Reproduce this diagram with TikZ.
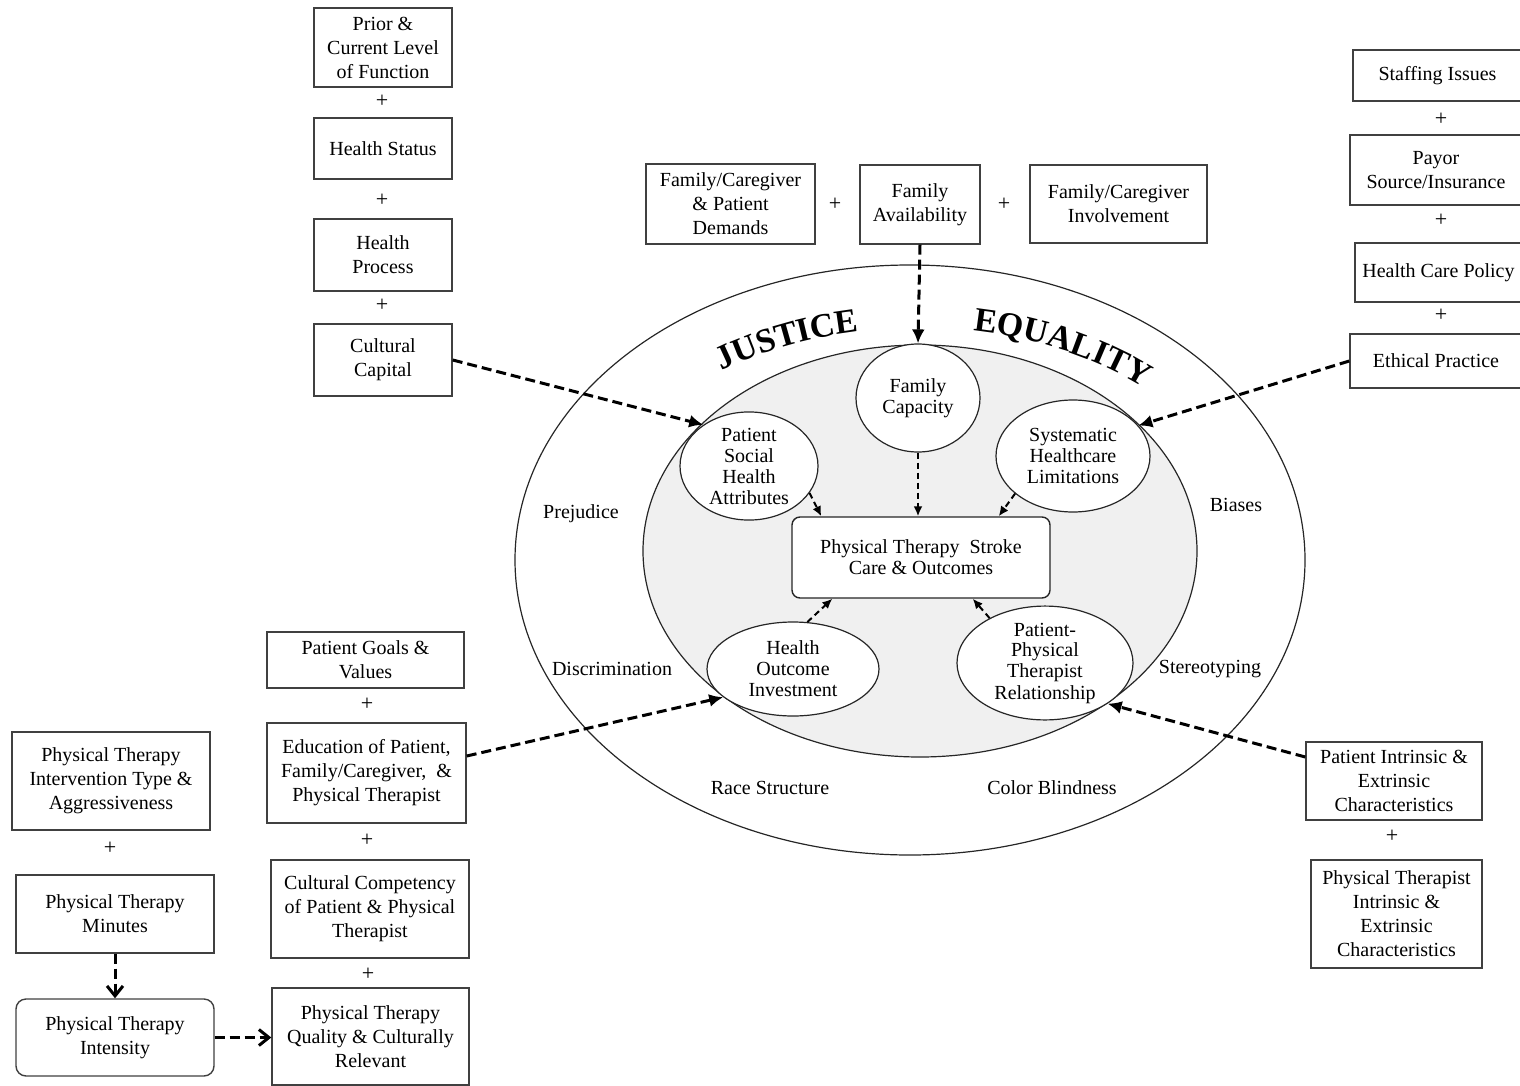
\documentclass[tikz,border=0pt]{standalone}
\usepackage{fontspec}
\setmainfont{Liberation Serif}
\usetikzlibrary{shapes.geometric, arrows.meta, calc, decorations.text}

\begin{document}
\begin{tikzpicture}[x=0.5pt, y=-0.5pt,
  every node/.style={font=\fontsize{10}{12}\selectfont, text=black},
  box/.style={draw=black!75, line width=0.7pt, align=center, inner sep=0pt, fill=white},
  bubble/.style={ellipse, draw=black!85, line width=0.6pt, align=center, inner sep=0pt,
    fill=white, font=\fontsize{10}{10.5}\selectfont},
  plus/.style={font=\fontsize{11}{12}\selectfont, inner sep=0pt},
  ringlabel/.style={font=\fontsize{10}{12}\selectfont, inner sep=0pt},
  bigflow/.style={line width=1.5pt, dash pattern=on 5pt off 2.5pt,
    -{Latex[length=7pt,width=6.5pt]}},
  smallflow/.style={line width=1pt, dash pattern=on 3pt off 2pt,
    -{Latex[length=5pt,width=4.5pt]}},
  chevron/.style={line width=1.5pt, dash pattern=on 5pt off 2.5pt,
    -{Straight Barb[length=5pt,width=8pt]}},
]
\useasboundingbox (0,0) rectangle (1520,1086);

% ---------- the two rings ----------
\node[ellipse, draw=black!85, line width=0.6pt, inner sep=0pt,
      minimum width=395pt, minimum height=295pt] (outer) at (910,560) {};
\node[ellipse, draw=black!85, line width=0.6pt, inner sep=0pt, fill=black!6,
      minimum width=277pt, minimum height=206pt] (inner) at (920,551) {};

% ---------- curved headings ----------
\begin{scope}[shift={(918,560)}, y=0.5pt]
  \path[decorate, decoration={text along path, text align=center,
      text={|\fontsize{17}{20}\selectfont\bfseries|JUSTICE}}]
    (138:338 and 232) arc[start angle=138, end angle=89, x radius=338, y radius=232];
  \path[decorate, decoration={text along path, text align=center,
      text={|\fontsize{17}{20}\selectfont\bfseries|EQUALITY}}]
    (90:338 and 232) arc[start angle=90, end angle=37, x radius=338, y radius=232];
\end{scope}

% ---------- labels in the outer ring ----------
\node[ringlabel] (prej)  at (581,514) {Prejudice};
\node[ringlabel] (discr) at (612,669) {Discrimination};
\node[ringlabel] (race)  at (770,788) {Race Structure};
\node[ringlabel] (color) at (1052,788) {Color Blindness};
\node[ringlabel] (bias)  at (1236,505) {Biases};
\node[ringlabel] (stereo) at (1210,669) {Stereotyping};

% ---------- inner bubbles ----------
\node[bubble, minimum width=62pt, minimum height=54pt] (famcap) at (918,398)
  {Family\\Capacity};
\node[bubble, minimum width=69pt, minimum height=54pt] (psha) at (749,466)
  {Patient\\Social\\Health\\Attributes};
\node[bubble, minimum width=77pt, minimum height=56pt] (sys) at (1073,456)
  {Systematic\\Healthcare\\Limitations};
\node[bubble, minimum width=86pt, minimum height=47pt] (hoi) at (793,669)
  {Health\\Outcome\\Investment};
\node[bubble, minimum width=88pt, minimum height=54.5pt] (ppt) at (1045,663)
  {Patient-\\Physical\\Therapist\\Relationship};

\node[box, draw=black!85, rounded corners=4pt, minimum width=129pt, minimum height=40.5pt,
      font=\fontsize{10}{10.5}\selectfont] (central) at (921,557.5)
  {Physical Therapy\ \ Stroke\\Care \& Outcomes};

% ---------- upper left column ----------
\node[box, minimum width=69pt, minimum height=39.5pt] (prior) at (383,47.5)
  {Prior \&\\Current Level\\of Function};
\node[plus] (pa) at (382,101) {+};
\node[box, minimum width=69pt, minimum height=30.5pt] (hstat) at (383,148.5)
  {Health Status};
\node[plus] (pb) at (382,200) {+};
\node[box, minimum width=69pt, minimum height=36pt] (hproc) at (383,255)
  {Health\\Process};
\node[plus] (pc) at (382,305) {+};
\node[box, minimum width=69pt, minimum height=36pt] (ccap) at (383,360)
  {Cultural\\Capital};

% ---------- family row ----------
\node[box, minimum width=84.5pt, minimum height=40pt] (famdem) at (730.5,204)
  {Family/Caregiver\\\& Patient\\Demands};
\node[plus] (pd) at (835,204) {+};
\node[box, minimum width=60pt, minimum height=39.5pt] (famav) at (920,204.5)
  {Family\\Availability};
\node[plus] (pe) at (1004,204) {+};
\node[box, minimum width=88.5pt, minimum height=39pt] (faminv) at (1118.5,204)
  {Family/Caregiver\\Involvement};

% ---------- upper right column ----------
\node[box, minimum width=84.5pt, minimum height=25.5pt] (staff) at (1437.5,75.5)
  {Staffing Issues};
\node[plus] (pf) at (1441,119) {+};
\node[box, minimum width=86pt, minimum height=35pt] (payor) at (1436,170)
  {Payor\\Source/Insurance};
\node[plus] (pg) at (1441,220) {+};
\node[box, minimum width=83.5pt, minimum height=29.5pt] (hcp) at (1438.5,272.5)
  {Health Care Policy};
\node[plus] (ph) at (1441,315) {+};
\node[box, minimum width=86pt, minimum height=27pt] (ethic) at (1436,361)
  {Ethical Practice};

% ---------- lower right column ----------
\node[box, minimum width=88pt, minimum height=39pt] (pint) at (1394,781)
  {Patient Intrinsic \&\\Extrinsic\\Characteristics};
\node[plus] (pi) at (1392,836) {+};
\node[box, minimum width=85.5pt, minimum height=54pt] (ptint) at (1396.5,914)
  {Physical Therapist\\Intrinsic \&\\Extrinsic\\Characteristics};

% ---------- lower middle column ----------
\node[box, minimum width=98.5pt, minimum height=28pt] (goals) at (365.5,660)
  {Patient Goals \&\\Values};
\node[plus] (pj) at (367,704) {+};
\node[box, minimum width=99.5pt, minimum height=50pt] (edu) at (366.5,773)
  {Education of Patient,\\Family/Caregiver,\ \ \&\\Physical Therapist};
\node[plus] (pk) at (367,840) {+};
\node[box, minimum width=99pt, minimum height=49pt] (ccomp) at (370,909)
  {Cultural Competency\\of Patient \& Physical\\Therapist};
\node[plus] (pl) at (368,974) {+};
\node[box, minimum width=98.5pt, minimum height=48.5pt] (qual) at (370.5,1036.5)
  {Physical Therapy\\Quality \& Culturally\\Relevant};

% ---------- lower left column ----------
\node[box, minimum width=99pt, minimum height=49pt] (itype) at (111,781)
  {Physical Therapy\\Intervention Type \&\\Aggressiveness};
\node[plus] (pm) at (110,848) {+};
\node[box, minimum width=99pt, minimum height=39pt] (minutes) at (115,914)
  {Physical Therapy\\Minutes};
\node[box, rounded corners=5pt, minimum width=99pt, minimum height=38.5pt] (intensity) at (115,1037.5)
  {Physical Therapy\\Intensity};

% ---------- influences into the rings ----------
\draw[bigflow] (ccap.east) -- (psha.138);
\draw[bigflow] (ethic.west) -- (sys.25);
\draw[bigflow] ($(edu.east)+(0,-17)$) -- (hoi.202);
\draw[bigflow] ($(pint.west)+(0,-24)$) -- (ppt.-33);
\draw[bigflow] (famav.south) -- (famcap.north);

% ---------- bubbles into the outcome box ----------
\draw[smallflow] (psha.-24) -- ($(central.north west)+(30,0)$);
\draw[smallflow] (famcap.south) -- (famcap.south |- central.north);
\draw[smallflow] (sys.213) -- ($(central.north east)+(-52,0)$);
\draw[smallflow] (hoi.73) -- ($(central.south west)+(41,0)$);
\draw[smallflow] (ppt.141) -- ($(central.south east)+(-78,0)$);

% ---------- therapy dose chain ----------
\draw[chevron] (minutes.south) -- (intensity.north);
\draw[chevron] (intensity.east) -- (intensity.east -| qual.west);

\end{tikzpicture}
\end{document}
